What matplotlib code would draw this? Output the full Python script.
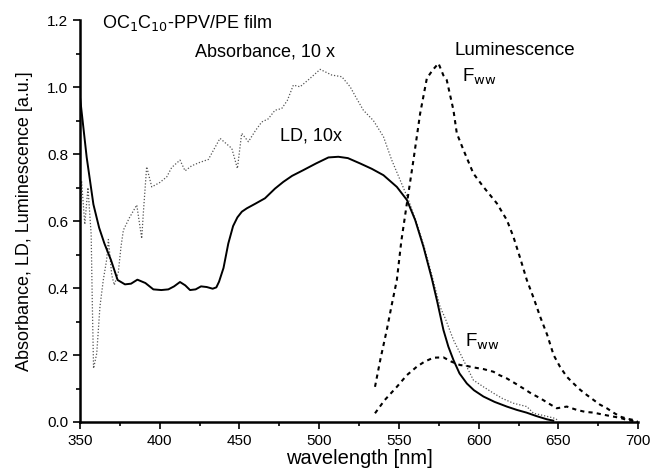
import matplotlib
matplotlib.use("Agg")
import matplotlib.pyplot as plt
from matplotlib.ticker import MultipleLocator, FormatStrFormatter

plt.rcParams['font.family'] = ['Liberation Sans', 'DejaVu Sans']

# LD, 10x (solid)
ld_x = [350, 354.2, 358.4, 362, 365.3, 369.4, 373.6, 378.2, 382, 386, 391, 396, 401, 405.4, 409,
        412.7, 416, 419, 422.5, 425.9, 429.5, 433.2, 435.5, 437.2, 440, 443, 446, 448.7, 451.5, 454.6,
        460, 466, 472.3, 477.5, 483, 490, 498, 505.8, 512, 518, 525.7, 533, 540.3, 548.7, 555,
        560.2, 565.4, 570.6, 574, 577.9, 581, 584.2, 588, 592.6, 597, 603, 610, 617.7, 624, 630,
        636, 642.8, 646.8]
ld_y = [0.97, 0.79, 0.65, 0.58, 0.533, 0.484, 0.424, 0.411, 0.413, 0.425, 0.415, 0.396, 0.394, 0.396, 0.405,
        0.418, 0.408, 0.394, 0.396, 0.405, 0.403, 0.398, 0.402, 0.419, 0.46, 0.533, 0.585, 0.611, 0.628, 0.638,
        0.652, 0.668, 0.697, 0.717, 0.735, 0.752, 0.772, 0.79, 0.792, 0.788, 0.772, 0.756, 0.737, 0.702, 0.663,
        0.603, 0.523, 0.429, 0.36, 0.275, 0.225, 0.185, 0.145, 0.115, 0.095, 0.076, 0.06, 0.046, 0.036, 0.028,
        0.018, 0.008, 0.004]

# Absorbance, 10x (fine dotted)
abs_x = [350, 351, 353, 355, 357, 357.7, 358.5, 360.5, 362.5, 364.6, 366.7, 367.8, 369.9, 371.5, 374,
         375.7, 377.2, 381, 385.6, 388.7, 389.7, 391.8, 395, 400, 404.4, 407.5, 412.7, 415.9, 420,
         425, 430.5, 437.8, 445.2, 448.7, 451.4, 455.6, 460, 464, 468, 472.3, 476.5, 480, 483.8, 488,
         494, 500.6, 507.9, 514.2, 519.4, 523, 527.7, 534, 540.3, 545.5, 550.8, 556, 561.2, 566, 570,
         575.8, 579, 584.2, 588.4, 592, 596.7, 603, 609.3, 615, 621.8, 630.2, 634.4, 640, 647, 650]
abs_y = [0.60, 0.72, 0.59, 0.70, 0.56, 0.36, 0.16, 0.205, 0.344, 0.424, 0.484, 0.545, 0.439, 0.409, 0.446,
         0.523, 0.573, 0.61, 0.648, 0.548, 0.623, 0.762, 0.702, 0.715, 0.732, 0.76, 0.782, 0.75, 0.765,
         0.775, 0.784, 0.847, 0.817, 0.757, 0.862, 0.837, 0.87, 0.896, 0.905, 0.931, 0.936, 0.96, 1.006, 1.001,
         1.025, 1.053, 1.036, 1.031, 1.001, 0.97, 0.931, 0.90, 0.852, 0.782, 0.722, 0.663, 0.593, 0.52, 0.45,
         0.344, 0.31, 0.245, 0.205, 0.17, 0.125, 0.105, 0.086, 0.07, 0.056, 0.046, 0.026, 0.02, 0.012, 0.005]

# Luminescence (large)
lum_x = [535, 538.5, 542.4, 545.5, 548.7, 551.5, 555, 559.1, 563.3, 567.5, 571, 574.8, 577.9, 580,
         584.2, 586.3, 590.5, 596.7, 603, 611.4, 617.7, 621.8, 626, 630.2, 634.5, 638.6, 643, 647,
         651, 655.3, 659.5, 663.7, 668, 672, 676, 680.4, 684.5, 688.8, 693, 697.1, 700]
lum_y = [0.105, 0.19, 0.275, 0.35, 0.424, 0.54, 0.653, 0.782, 0.921, 1.026, 1.05, 1.071, 1.035, 1.021,
         0.931, 0.862, 0.812, 0.742, 0.702, 0.653, 0.603, 0.553, 0.49, 0.424, 0.37, 0.314, 0.26, 0.20,
         0.165, 0.135, 0.115, 0.096, 0.08, 0.066, 0.052, 0.041, 0.028, 0.016, 0.01, 0.006, 0.0]

# Luminescence F_ww (small)
fww_x = [535, 541, 548.7, 555, 561.2, 566, 571.6, 577.9, 583, 588.4, 592, 596.7, 603, 609.3, 613,
         617.7, 623, 628.1, 633, 638.6, 644, 649, 655.3, 661.6, 667, 672, 678, 684.6, 689, 693, 697, 700]
fww_y = [0.026, 0.065, 0.105, 0.14, 0.165, 0.18, 0.192, 0.193, 0.18, 0.17, 0.168, 0.163, 0.158, 0.15, 0.14,
         0.13, 0.115, 0.10, 0.085, 0.071, 0.055, 0.041, 0.046, 0.036, 0.03, 0.028, 0.022, 0.016, 0.012, 0.006, 0.003, 0.0]

x_ticks = [350, 400, 450, 500, 550, 600, 650, 700]
y_ticks = [0.0, 0.2, 0.4, 0.6, 0.8, 1.0, 1.2]

fig = plt.figure(figsize=(6.52, 4.75), dpi=100)
ax = fig.add_axes([0.1227, 0.1116, 0.856, 0.846])

ax.plot(abs_x, abs_y, color='#555555', lw=0.9, linestyle=(0, (1, 1.5)))
ax.plot(ld_x, ld_y, color='black', lw=1.4, linestyle='-')
ax.plot(lum_x, lum_y, color='black', lw=1.5, linestyle=(0, (2, 2)))
ax.plot(fww_x, fww_y, color='black', lw=1.5, linestyle=(0, (2, 2)))

ax.set_xlim(350, 700)
ax.set_ylim(0, 1.2)
ax.set_xticks(x_ticks)
ax.set_yticks(y_ticks)
ax.xaxis.set_minor_locator(MultipleLocator(25))
ax.yaxis.set_minor_locator(MultipleLocator(0.1))
ax.yaxis.set_major_formatter(FormatStrFormatter('%.1f'))
ax.tick_params(which='both', direction='out', width=1.2, labelsize=11)
ax.tick_params(which='major', length=5)
ax.tick_params(which='minor', length=3)
ax.spines['top'].set_visible(False)
ax.spines['right'].set_visible(False)
ax.spines['left'].set_linewidth(1.8)
ax.spines['bottom'].set_linewidth(1.8)

ax.set_xlabel('wavelength [nm]', fontsize=14.5, labelpad=1)
ax.set_ylabel('Absorbance, LD, Luminescence [a.u.]', fontsize=13, labelpad=10)

ax.text(364, 1.19, r'OC$_1$C$_{10}$-PPV/PE film', fontsize=13, va='center', ha='left')
ax.text(422, 1.105, 'Absorbance, 10 x', fontsize=13, va='center', ha='left')
ax.text(475.5, 0.855, 'LD, 10x', fontsize=13, va='center', ha='left')
ax.text(585, 1.108, 'Luminescence', fontsize=13.5, va='center', ha='left')
ax.text(589.4, 1.03, r'F$_{\rm ww}$', fontsize=13.5, va='center', ha='left')
ax.text(591.5, 0.24, r'F$_{\rm ww}$', fontsize=13.5, va='center', ha='left')

fig.savefig('out.png', dpi=100)
